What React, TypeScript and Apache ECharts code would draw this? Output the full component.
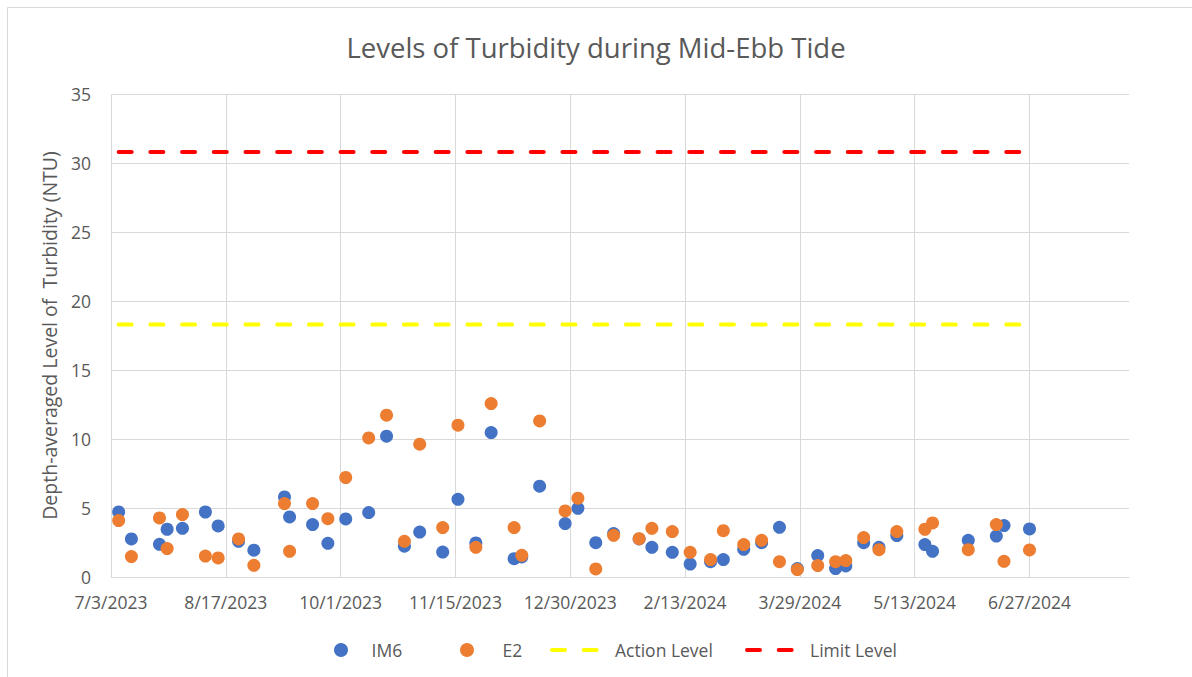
import React, { useEffect, useRef } from "react";
import * as echarts from "echarts";

// ---- Data ----
const START_DATE = "2023-07-03";
const X_TICK_LABELS = [
  "7/3/2023", "8/17/2023", "10/1/2023", "11/15/2023", "12/30/2023",
  "2/13/2024", "3/29/2024", "5/13/2024", "6/27/2024",
];
const TICK_STEP_DAYS = 45;
const AXIS_MAX_DAYS = 399;

const SAMPLE_DATES = [
  "2023-07-06", "2023-07-11", "2023-07-22", "2023-07-25", "2023-07-31",
  "2023-08-09", "2023-08-14", "2023-08-22", "2023-08-28", "2023-09-09",
  "2023-09-11", "2023-09-20", "2023-09-26", "2023-10-03", "2023-10-12",
  "2023-10-19", "2023-10-26", "2023-11-01", "2023-11-10", "2023-11-16",
  "2023-11-23", "2023-11-29", "2023-12-08", "2023-12-11", "2023-12-18",
  "2023-12-28", "2024-01-02", "2024-01-09", "2024-01-16", "2024-01-26",
  "2024-01-31", "2024-02-08", "2024-02-15", "2024-02-23", "2024-02-28",
  "2024-03-07", "2024-03-14", "2024-03-21", "2024-03-28", "2024-04-05",
  "2024-04-12", "2024-04-16", "2024-04-23", "2024-04-29", "2024-05-06",
  "2024-05-17", "2024-05-20", "2024-06-03", "2024-06-14", "2024-06-17",
  "2024-06-27",
];

const IM6 = [
  4.71, 2.76, 2.37, 3.46, 3.53, 4.71, 3.7, 2.59, 1.94, 5.8,
  4.35, 3.8, 2.44, 4.21, 4.67, 10.2, 2.23, 3.26, 1.81, 5.63,
  2.47, 10.47, 1.33, 1.45, 6.58, 3.87, 4.98, 2.49, 3.15, 2.76,
  2.15, 1.79, 0.94, 1.11, 1.26, 2.01, 2.49, 3.6, 0.61, 1.55,
  0.61, 0.8, 2.49, 2.15, 3.0, 2.35, 1.86, 2.66, 2.97, 3.73,
  3.48,
];

const E2 = [
  4.09, 1.48, 4.28, 2.06, 4.52, 1.52, 1.38, 2.76, 0.85, 5.32,
  1.86, 5.32, 4.23, 7.21, 10.08, 11.73, 2.59, 9.62, 3.58, 11.0,
  2.15, 12.57, 3.58, 1.57, 11.31, 4.79, 5.71, 0.58, 3.02, 2.78,
  3.53, 3.29, 1.79, 1.26, 3.36, 2.35, 2.66, 1.11, 0.54, 0.83,
  1.11, 1.19, 2.86, 1.98, 3.29, 3.46, 3.92, 1.98, 3.8, 1.14,
  1.96,
];

const ACTION_LEVEL = 18.3;
const LIMIT_LEVEL = 30.8;

// ---- helpers ----
const DAY_MS = 86400000;
const dayOffset = (d: string) =>
  Math.round((Date.parse(d + "T00:00:00Z") - Date.parse(START_DATE + "T00:00:00Z")) / DAY_MS);

const FONT = "'Open Sans', sans-serif";
const TEXT_COLOR = "#595959";
const GRID_COLOR = "#d9d9d9";
const DASH = [13, 18.7];

export default function App() {
  const ref = useRef<HTMLDivElement>(null);

  useEffect(() => {
    if (!ref.current) return;
    const chart = echarts.init(ref.current, undefined, { renderer: "svg" });

    const xs = SAMPLE_DATES.map(dayOffset);
    const im6Data = xs.map((x, i) => [x, IM6[i]]);
    const e2Data = xs.map((x, i) => [x, E2[i]]);
    const firstX = xs[0];
    const lastX = xs[xs.length - 1];

    const dashed = (color: string) => ({
      color,
      width: 4,
      type: DASH,
      cap: "round" as const,
    });

    const legendBase = {
      top: 636,
      itemHeight: 14,
      textStyle: { fontFamily: FONT, fontSize: 17.5, color: TEXT_COLOR },
    };
    const legendLine = { width: 4, type: DASH, cap: "round" };

    chart.setOption({
      animation: false,
      backgroundColor: "#ffffff",
      textStyle: { fontFamily: FONT },
      title: {
        text: "Levels of Turbidity during Mid-Ebb Tide",
        left: "center",
        top: 28,
        textStyle: {
          fontFamily: FONT,
          fontSize: 27.5,
          fontWeight: "normal",
          color: TEXT_COLOR,
        },
      },
      graphic: [
        {
          type: "rect",
          silent: true,
          shape: { x: 7.5, y: 7.5, width: 1300, height: 800 },
          style: { fill: "none", stroke: GRID_COLOR, lineWidth: 1 },
          z: -1,
        },
      ],
      legend: [
        { ...legendBase, left: 329, itemWidth: 51, data: ["IM6"] },
        { ...legendBase, left: 455, itemWidth: 61, data: ["E2"] },
        {
          ...legendBase,
          left: 545,
          itemWidth: 58,
          lineStyle: legendLine,
          data: [{ name: "Action Level", itemStyle: { opacity: 0 } }],
        },
        {
          ...legendBase,
          left: 740,
          itemWidth: 58,
          lineStyle: legendLine,
          data: [{ name: "Limit Level", itemStyle: { opacity: 0 } }],
        },
      ],
      grid: { left: 111, right: 63, top: 94, bottom: 100 },
      xAxis: {
        type: "value",
        min: 0,
        max: AXIS_MAX_DAYS,
        interval: TICK_STEP_DAYS,
        axisLine: { show: true, lineStyle: { color: GRID_COLOR, width: 1 } },
        axisTick: { show: false },
        axisLabel: {
          margin: 16,
          fontFamily: FONT,
          fontSize: 17.5,
          color: TEXT_COLOR,
          showMaxLabel: false,
          formatter: (v: number) => {
            const idx = v / TICK_STEP_DAYS;
            return Number.isInteger(idx) && X_TICK_LABELS[idx] ? X_TICK_LABELS[idx] : "";
          },
        },
        splitLine: {
          show: true,
          showMaxLine: false,
          lineStyle: { color: GRID_COLOR, width: 1 },
        },
      },
      yAxis: {
        type: "value",
        min: 0,
        max: 35,
        interval: 5,
        name: "Depth-averaged Level of  Turbidity (NTU)",
        nameLocation: "middle",
        nameGap: 52,
        nameTextStyle: { fontFamily: FONT, fontSize: 19.5, color: TEXT_COLOR },
        axisLine: { show: false },
        axisTick: { show: false },
        axisLabel: { margin: 20, fontFamily: FONT, fontSize: 17.5, color: TEXT_COLOR },
        splitLine: { show: true, lineStyle: { color: GRID_COLOR, width: 1 } },
      },
      series: [
        {
          name: "IM6",
          type: "scatter",
          data: im6Data,
          symbol: "circle",
          symbolSize: 13,
          itemStyle: { color: "#4472C4", opacity: 1 },
          z: 3,
        },
        {
          name: "E2",
          type: "scatter",
          data: e2Data,
          symbol: "circle",
          symbolSize: 13,
          itemStyle: { color: "#ED7D31", opacity: 1 },
          z: 4,
        },
        {
          name: "Action Level",
          type: "line",
          data: [[firstX, ACTION_LEVEL], [lastX, ACTION_LEVEL]],
          symbol: "none",
          itemStyle: { color: "#FFFF00" },
          lineStyle: dashed("#FFFF00"),
          z: 2,
        },
        {
          name: "Limit Level",
          type: "line",
          data: [[firstX, LIMIT_LEVEL], [lastX, LIMIT_LEVEL]],
          symbol: "none",
          itemStyle: { color: "#FF0000" },
          lineStyle: dashed("#FF0000"),
          z: 2,
        },
      ],
    });

    return () => chart.dispose();
  }, []);

  return (
    <div
      ref={ref}
      style={{ position: "fixed", left: 0, top: 0, width: 1192, height: 677 }}
    />
  );
}
